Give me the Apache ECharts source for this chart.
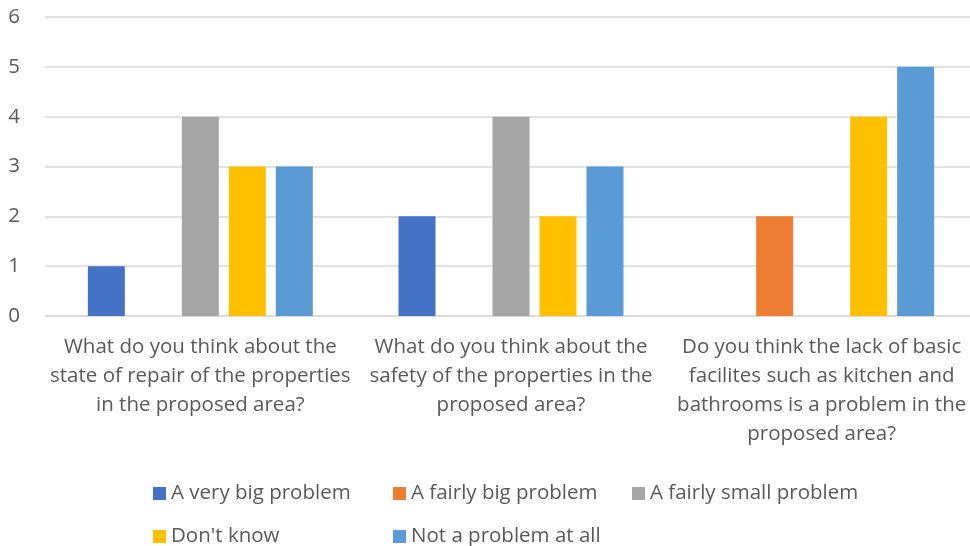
<!DOCTYPE html>
<html><head><meta charset="utf-8">
<script src="https://cdn.jsdelivr.net/npm/echarts@6/dist/echarts.min.js"></script>
<style>html,body{margin:0;padding:0;background:#fff}#c{width:970px;height:546px}</style>
</head><body><div id="c"></div>
<script>
const categories = [
  "What do you think about the\nstate of repair of the properties\nin the proposed area?",
  "What do you think about the\nsafety of the properties in the\nproposed area?",
  "Do you think the lack of basic\nfacilites such as kitchen and\nbathrooms is a problem in the\nproposed area?"
];
const seriesNames = ["A very big problem","A fairly big problem","A fairly small problem","Don't know","Not a problem at all"];
const veryBig = [1, 2, 0];
const fairlyBig = [0, 0, 2];
const fairlySmall = [4, 4, 0];
const dontKnow = [3, 2, 4];
const notProblem = [3, 3, 5];
const yTicks = [0, 1, 2, 3, 4, 5, 6];

const colors = ['#4472C4','#ED7D31','#A5A5A5','#FFC000','#5B9BD5'];
const values = [veryBig, fairlyBig, fairlySmall, dontKnow, notProblem];
const font = '"Open Sans", Lato, sans-serif';
const fs = 20.5;
const chart = echarts.init(document.getElementById('c'));
const legendPos = [[148,478],[388,478],[627,478],[148,521],[388,521]];
chart.setOption({
  animation:false,
  color: colors,
  grid:{left:45, width:932, top:17, bottom:230, containLabel:false, outerBoundsMode:'none'},
  legend: seriesNames.map((n,i)=>({data:[n], left:legendPos[i][0], top:legendPos[i][1],
    itemWidth:13, itemHeight:13, itemGap:0, icon:'rect',
    textStyle:{color:'#595959', fontSize:fs, fontFamily:font, padding:[0,0,0,0]}})),
  xAxis:{type:'category', data:categories,
    axisLine:{show:true, lineStyle:{color:'#d9d9d9', width:1.5}}, axisTick:{show:false},
    axisLabel:{color:'#595959', fontSize:fs, fontFamily:font, lineHeight:29, margin:17, interval:0}},
  yAxis:{type:'value', min:yTicks[0], max:yTicks[yTicks.length-1], interval:1,
    axisLine:{show:false}, axisTick:{show:false},
    axisLabel:{color:'#595959', fontSize:fs, fontFamily:font, margin:25},
    splitLine:{lineStyle:{color:'#d9d9d9', width:1.5}}},
  series: seriesNames.map((n,i)=>({name:n, type:'bar', data:values[i], barWidth:37, barGap:'27%'}))
});
</script></body></html>
